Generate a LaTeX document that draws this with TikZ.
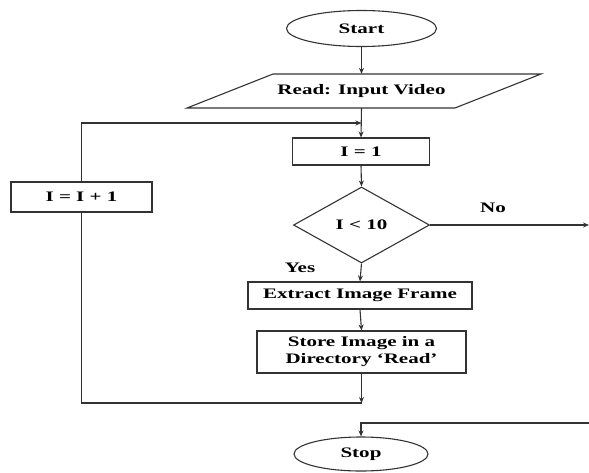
\documentclass[tikz,border=0pt]{standalone}
\usepackage{fontspec}
\setmainfont[FakeStretch=1.45]{Liberation Serif}
\usetikzlibrary{shapes.geometric,arrows.meta}
\begin{document}
\begin{tikzpicture}[x=1pt,y=-1pt,
  every node/.style={font=\fontsize{14.5}{17}\selectfont\bfseries, text=black},
  ln/.style={draw=black!80, line width=1.1pt},
  arr/.style={ln, -{Stealth[length=6pt,width=5pt]}},
  term/.style={ln, ellipse, inner sep=0pt},
  proc/.style={ln, rectangle, inner sep=0pt, align=center},
  dec/.style={ln, diamond, inner sep=0pt},
  lbl/.style={inner sep=0pt}
]
\useasboundingbox (0,0) rectangle (589,472);
% nodes
\node[term, minimum width=150pt, minimum height=36pt] (start) at (361.5,28.5) {Start};
\draw[ln] (187,108) -- (273,74) -- (541,74) -- (455,108) -- cycle;
\node[inner sep=0pt, minimum height=34pt, minimum width=180pt] (read) at (361.5,91) {Read: Input Video};
\node[proc, minimum width=137pt, minimum height=27pt] (i1) at (361,151.5) {I = 1};
\node[dec, minimum width=136pt, minimum height=76pt] (cond) at (361.5,225) {I < 10};
\node[proc, minimum width=224pt, minimum height=27pt] (extract) at (360,295.5) {Extract Image Frame};
\node[proc, minimum width=209pt, minimum height=42pt] (store) at (361.5,352) {Store Image in a\\Directory `Read'};
\node[proc, minimum width=141pt, minimum height=30pt] (inc) at (81.5,197) {I = I + 1};
\node[term, minimum width=134pt, minimum height=34pt] (stop) at (361,454) {Stop};
\node[lbl] (yes) at (300,268) {Yes};
\node[lbl] (no) at (493,208) {No};
% coordinates
\coordinate (jtop) at (361.5,123);
\coordinate (jbot) at (361.5,403);
\coordinate (noend) at (589,225);
\coordinate (rin) at (589,423);
% connectors
\draw[arr] (start.south) -- (read.north);
\draw[arr] (read.south) -- (i1.north);
\draw[arr] (inc.north) |- (jtop);
\draw[arr] (i1.south) -- (cond.north);
\draw[arr] (cond.east) -- (noend);
\draw[arr] (cond.south) -- (extract.north);
\draw[arr] (extract.south) -- (store.north);
\draw[arr] (store.south) -- (jbot);
\draw[ln] (jbot) -| (inc.south);
\draw[arr] (rin) -| (stop.north);
\end{tikzpicture}
\end{document}
